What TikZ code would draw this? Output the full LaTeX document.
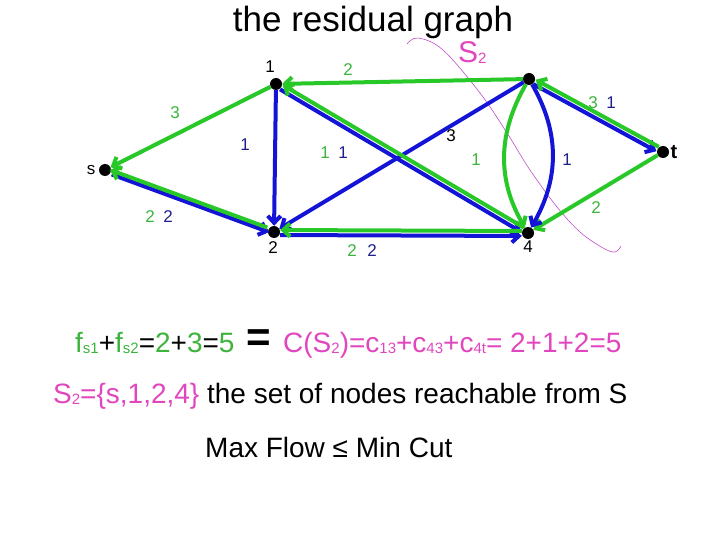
\documentclass[tikz,border=0pt]{standalone}
\usepackage{fontspec}
\setmainfont{Liberation Sans}
\usetikzlibrary{arrows.meta,calc}
\definecolor{eg}{RGB}{40,200,40}
\definecolor{eb}{RGB}{20,20,215}
\definecolor{lg}{RGB}{60,180,60}
\definecolor{lb}{RGB}{30,30,140}
\definecolor{mg}{RGB}{225,70,190}
\definecolor{cutc}{RGB}{190,80,200}
\newcommand\mysub[1]{\raisebox{-1pt}{\fontsize{15}{15}\selectfont #1}}
\begin{document}
\begin{tikzpicture}[x=1pt,y=-1pt,
  dot/.style={circle,fill=black,inner sep=0pt,minimum size=12pt},
  ge/.style={draw=eg,line width=4pt},
  be/.style={draw=eb,line width=4pt},
  tipend/.style={-{Straight Barb[length=7pt,width=13pt]}},
  shiftby/.style={transform canvas={shift={#1}}},
  lab/.style={font=\fontsize{17}{17}\selectfont,inner sep=0pt},
  big/.style={font=\fontsize{28}{28}\selectfont,inner sep=0pt,anchor=base west}
]
\useasboundingbox (0,0) rectangle (720,540);

% title
\node[font=\fontsize{35}{35}\selectfont,inner sep=0pt,anchor=base] (title) at (373,32) {the residual graph};

% cut curve
\draw[cutc,line width=0.6pt] plot[smooth,tension=0.6] coordinates {(407,44) (418,38) (443,50) (480,93) (507,133) (530,170) (557,207) (580,232) (603,248) (615,252) (621,246)};
\node[mg,font=\fontsize{30}{30}\selectfont,inner sep=0pt,anchor=base west] (S2) at (458,63) {S\mysub{2}};

% nodes
\node[dot] (s) at (105,170) {};
\node[dot] (n1) at (276,84) {};
\node[dot] (n3) at (529,79) {};
\node[dot] (t) at (663,152) {};
\node[dot] (n2) at (274,232) {};
\node[dot] (n4) at (528,233) {};

% green edges (single)
\draw[ge,tipend] (n1) -- (s);
\draw[ge,tipend] (n3) -- (n1);
\draw[ge,tipend] (t) -- (n4);
% blue single edges
\draw[be,tipend] (n1) -- (n2);
\draw[be,tipend] (n3) -- (n2);
% s-2 pair
\draw[be,tipend,shiftby={(0.9,2.3)}] (s) -- (n2);
\draw[ge,tipend,shiftby={(-0.9,-2.3)}] (n2) -- (s);
% 1-4 pair
\draw[be,tipend,shiftby={(-1.3,2.2)}] (n1) -- (n4);
\draw[ge,tipend,shiftby={(1.3,-2.2)}] (n4) -- (n1);
% 2-4 pair
\draw[be,tipend,shiftby={(0,3)}] (n2) -- (n4);
\draw[ge,tipend,shiftby={(0,-2)}] (n4) -- (n2);
% 3-t pair
\draw[be,tipend,shiftby={(-1.2,2.2)}] (n3) -- (t);
\draw[ge,tipend,shiftby={(1.2,-2.2)}] (t) -- (n3);
% 3-4 curves
\draw[ge,tipend] (n3) to[out=240,in=120] (n4);
\draw[be,tipend] (n3) to[out=-60,in=60] (n4);

% node labels
\node[lab] (l1) at (270,67) {1};
\node[lab] (l2) at (273,248) {2};
\node[lab] (l4) at (528,247) {4};
\node[lab] (ls) at (91,170) {s};
\node[font=\fontsize{20}{20}\selectfont\bfseries,inner sep=0pt] (lt) at (674,152) {t};

% edge labels
\node[lab,lg] (e1) at (348,70) {2};
\node[lab,lg] (e2) at (175,113) {3};
\node[lab,lg] (e3) at (593,103) {3};
\node[lab,lb] (e4) at (611,103) {1};
\node[lab,lb] (e5) at (245,145) {1};
\node[lab,lg] (e6) at (325,153) {1};
\node[lab,lb] (e7) at (343,153) {1};
\node[lab] (e8) at (451,136) {3};
\node[lab,lg] (e9) at (476,160) {1};
\node[lab,lb] (e10) at (567,160) {1};
\node[lab,lg] (e11) at (596,208) {2};
\node[lab,lg] (e12) at (150,217) {2};
\node[lab,lb] (e13) at (168,217) {2};
\node[lab,lg] (e14) at (352,251) {2};
\node[lab,lb] (e15) at (372,251) {2};

% equation line
\node[big] (eqa) at (75,352) {\textcolor{lg}{f\mysub{s1}}+\textcolor{lg}{f\mysub{s2}}=\textcolor{lg}{2}+\textcolor{lg}{3}=\textcolor{lg}{5}};
\node[font=\fontsize{42}{42}\selectfont\bfseries,inner sep=0pt] (eqm) at (259,341) {=};
\node[big,mg] (eqb) at (283,352) {C(S\mysub{2})=c\mysub{13}+c\mysub{43}+c\mysub{4t}= 2+1+2=5};

% second line
\node[big] (set) at (53,403) {\textcolor{mg}{S\mysub{2}=\{s,1,2,4\}} the set of nodes reachable from S};

% third line
\node[big] (mf) at (205,457) {Max Flow ≤ Min Cut};
\end{tikzpicture}
\end{document}
